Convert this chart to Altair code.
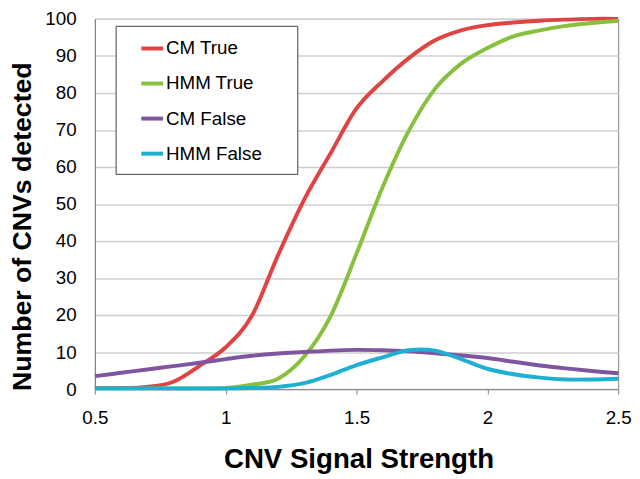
import altair as alt
import pandas as pd

x_vals = [0.5, 0.6, 0.7, 0.8, 0.9, 1.0, 1.1, 1.2, 1.3, 1.4, 1.5,
          1.6, 1.7, 1.8, 1.9, 2.0, 2.1, 2.2, 2.3, 2.4, 2.5]

cm_true = [0.3, 0.3, 0.6, 2.0, 6.3, 11.3, 19.8, 36.2, 51.2, 63.6, 75.8,
           83.2, 89.4, 94.2, 96.9, 98.3, 99.0, 99.5, 99.8, 100.0, 100.0]
hmm_true = [0.2, 0.2, 0.2, 0.2, 0.2, 0.3, 1.2, 2.8, 8.8, 19.6, 36.6,
            54.6, 69.8, 81.1, 87.9, 92.1, 95.3, 96.9, 98.1, 98.9, 99.5]
cm_false = [3.5, 4.4, 5.3, 6.2, 7.1, 8.1, 9.0, 9.6, 10.0, 10.4, 10.6,
            10.5, 10.2, 9.7, 9.1, 8.4, 7.4, 6.4, 5.6, 4.9, 4.3]
hmm_false = [0.2, 0.2, 0.2, 0.2, 0.2, 0.2, 0.3, 0.6, 1.6, 3.8, 6.5,
             8.6, 10.5, 10.4, 8.1, 5.5, 4.0, 3.1, 2.6, 2.6, 2.8]

series_names = ["CM True", "HMM True", "CM False", "HMM False"]
series_values = [cm_true, hmm_true, cm_false, hmm_false]
series_colors = ["#E04343", "#88C03D", "#8055A0", "#1EAFD2"]

x_ticks = [0.5, 1, 1.5, 2, 2.5]
y_ticks = list(range(0, 101, 10))

rows = []
for i, (name, vals) in enumerate(zip(series_names, series_values)):
    for xv, yv in zip(x_vals, vals):
        rows.append({"series": name, "order": i, "x": xv, "y": yv})
df = pd.DataFrame(rows)

FONT = "Liberation Sans"

chart = alt.Chart(df).mark_line(interpolate="cardinal", strokeWidth=4).encode(
    x=alt.X("x:Q",
            scale=alt.Scale(domain=[0.5, 2.5], nice=False, zero=False),
            axis=alt.Axis(values=x_ticks, format="~g", title="CNV Signal Strength",
                          grid=False, ticks=True, tickSize=5, tickColor="#808080",
                          domainColor="#808080", labelPadding=15, labelFontSize=19,
                          labelFlush=False, labelColor="#000000", labelFont=FONT,
                          titleFont=FONT, titleFontSize=28, titleFontWeight="bold",
                          titleColor="#000000", titleX=267, titleY=79,
                          titleBaseline="alphabetic")),
    y=alt.Y("y:Q",
            scale=alt.Scale(domain=[0, 100], nice=False),
            axis=alt.Axis(values=y_ticks, title="Number of CNVs detected",
                          grid=True, gridColor="#CFCFCF", gridWidth=1.5,
                          ticks=False, tickSize=0, domainColor="#808080",
                          labelPadding=19, labelFontSize=19, labelFlush=False,
                          labelColor="#000000",
                          labelFont=FONT, titleFont=FONT, titleFontSize=27,
                          titleFontWeight="bold", titleColor="#000000",
                          titleAngle=270, titleAlign="center", titleBaseline="middle",
                          titleX=-73, titleY=210)),
    color=alt.Color("series:N",
                    scale=alt.Scale(domain=series_names, range=series_colors),
                    legend=alt.Legend(orient="none", legendX=21, legendY=7,
                                      title="\u00a0", titleOrient="right",
                                      titleFontSize=19, titlePadding=26,
                                      labelFontSize=19, labelFont=FONT, labelColor="#000000",
                                      symbolType="stroke", symbolStrokeWidth=4, symbolSize=484,
                                      padding=10, rowPadding=12.5, strokeColor="#404040",
                                      fillColor="#FFFFFF", symbolOffset=14, labelOffset=1)),
    order=alt.Order("order:Q"),
).properties(
    width=530,
    height=375,
    padding={"left": 88, "top": 8, "right": 14, "bottom": 86},
    autosize=alt.AutoSizeParams(type="none"),
).configure_view(
    stroke="#808080", strokeWidth=1
)

chart.save("out.html", embed_options={"renderer": "svg", "actions": False})
